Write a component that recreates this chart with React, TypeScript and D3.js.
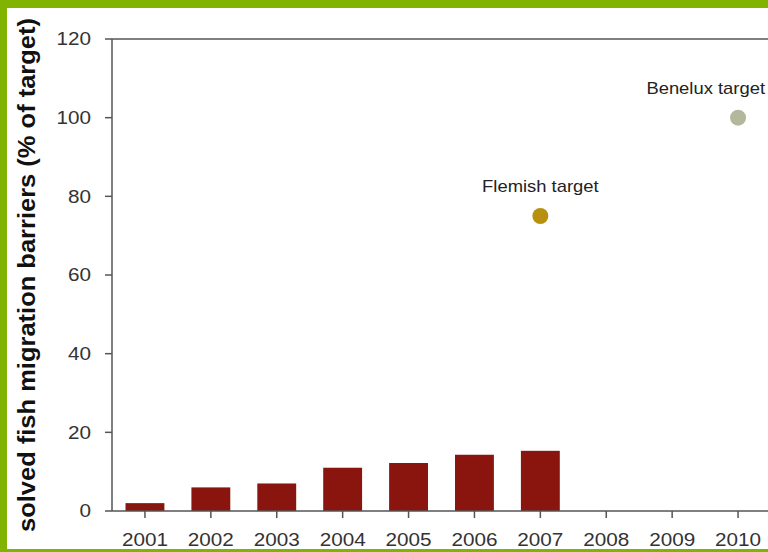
import React from 'react';
import * as d3 from 'd3';

const years = ['2001', '2002', '2003', '2004', '2005', '2006', '2007', '2008', '2009', '2010'];
const solved = [2, 6, 7, 11, 12.2, 14.3, 15.3];
const targetNames = ['Flemish target', 'Benelux target'];
const targetYears = ['2007', '2010'];
const targetValues = [75, 100];
const targetColors = ['#b8900f', '#b3b89c'];
const yTicks = [0, 20, 40, 60, 80, 100, 120];

const W = 768;
const H = 552;
const green = '#80b400';
const stretch = 1.15;

export default function App() {
	const left = 112;
	const top = 39;
	const bottom = 511;

	const x = d3.scaleBand<string>().domain(years).range([left, left + 659]).paddingInner(0.41).paddingOuter(0.205);
	const y = d3.scaleLinear().domain([0, 120]).range([bottom, top]);
	const center = (yr: string) => (x(yr) ?? 0) + x.bandwidth() / 2;

	return (
		<div style={{ position: 'fixed', left: 0, top: 0, width: W, height: H, background: '#fff' }}>
			<svg width={W} height={H} style={{ display: 'block', fontFamily: 'Liberation Sans, Arial, sans-serif' }}>
				{/* bars */}
				{solved.map((v, i) => (
					<rect
						key={years[i]}
						x={x(years[i])}
						y={y(v)}
						width={x.bandwidth()}
						height={y(0) - y(v)}
						fill='#8a150e'
					/>
				))}

				{/* axes */}
				<line x1={left} x2={W} y1={top} y2={top} stroke='#555' strokeWidth={1.5} />
				<line x1={left} x2={left} y1={top} y2={bottom} stroke='#555' strokeWidth={1.5} />
				<line x1={left} x2={W} y1={bottom} y2={bottom} stroke='#555' strokeWidth={1.5} />
				{yTicks.map((t) => (
					<g key={t}>
						<line x1={left - 7} x2={left} y1={y(t)} y2={y(t)} stroke='#555' strokeWidth={1.5} />
						<text
							transform={`translate(${left - 21},${y(t)}) scale(${stretch},1)`}
							dy='0.35em'
							textAnchor='end'
							fontSize={18}
							fill='#333'>
							{t}
						</text>
					</g>
				))}
				{years.map((yr) => (
					<g key={yr}>
						<line x1={center(yr)} x2={center(yr)} y1={bottom} y2={bottom + 7} stroke='#555' strokeWidth={1.5} />
						<text
							transform={`translate(${center(yr)},${bottom + 35}) scale(${stretch},1)`}
							textAnchor='middle'
							fontSize={18}
							fill='#333'>
							{yr}
						</text>
					</g>
				))}

				{/* targets */}
				{targetNames.map((name, i) => {
					const cx = center(targetYears[i]);
					const nearEdge = cx + 60 > W;
					return (
						<g key={name}>
							<circle cx={cx} cy={y(targetValues[i])} r={8} fill={targetColors[i]} />
							<text
								transform={`translate(${nearEdge ? W - 3 : cx},${y(targetValues[i]) - 24}) scale(${stretch},1)`}
								textAnchor={nearEdge ? 'end' : 'middle'}
								fontSize={16}
								fill='#222'>
								{name}
							</text>
						</g>
					);
				})}

				<text
					transform='translate(35,275) rotate(-90)'
					textAnchor='middle'
					fontSize={23}
					fontWeight='bold'
					fill='#111'
					textLength={514}
					lengthAdjust='spacingAndGlyphs'>
					solved fish migration barriers (% of target)
				</text>

				{/* frame */}
				<rect x={0} y={0} width={W} height={8} fill={green} />
				<rect x={0} y={0} width={7} height={H} fill={green} />
				<rect x={0} y={549} width={W} height={3} fill={green} />
			</svg>
		</div>
	);
}
